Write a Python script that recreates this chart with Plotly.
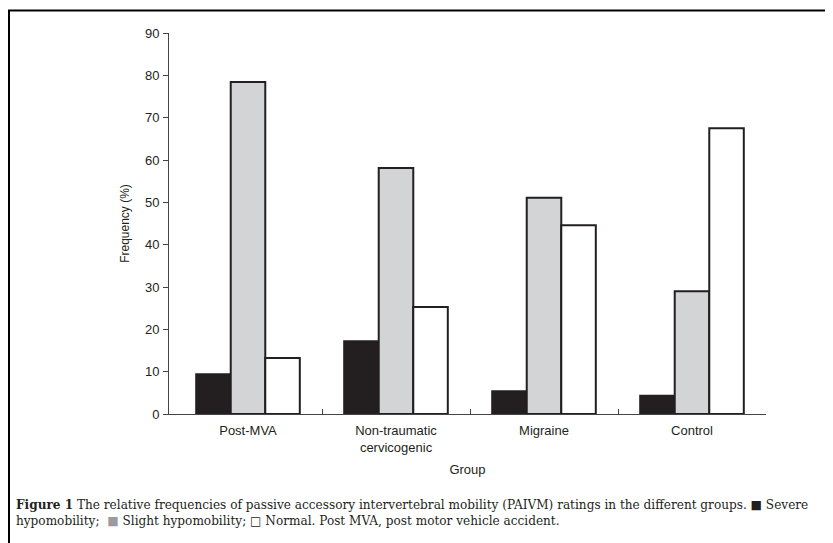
import plotly.graph_objects as go

groups = ["Post-MVA", "Non-traumatic<br>cervicogenic", "Migraine", "Control"]
severe = [9.4, 17.2, 5.4, 4.3]
slight = [78.4, 58.1, 51.1, 29.0]
normal = [13.2, 25.3, 44.6, 67.5]
y_ticks = [0, 10, 20, 30, 40, 50, 60, 70, 80, 90]

# page has an 8px body margin; work in figure coordinates
OFF = 8
W, H = 833, 543
L, R = 169 - OFF, 766 - OFF
T, B = 33 - OFF, 414 - OFF
pw, ph = R - L, B - T

def px(x):
    return (x - OFF - L) / pw

def py(y):
    return (B - (y - OFF)) / ph

fig = go.Figure()
line = dict(color="#231f20", width=2)
fig.add_bar(x=groups, y=severe, name="Severe hypomobility",
            marker=dict(color="#231f20", line=line))
fig.add_bar(x=groups, y=slight, name="Slight hypomobility",
            marker=dict(color="#d3d4d6", line=line))
fig.add_bar(x=groups, y=normal, name="Normal",
            marker=dict(color="#ffffff", line=line))
fig.add_scatter(x=[0], y=[0], xaxis="x2", mode="none", showlegend=False,
                hoverinfo="skip")

xr = [-0.5 - 5 / 148, 3.5]
axfont = dict(family="Liberation Sans, Arial, sans-serif", size=12, color="#231f20")
lblfont = dict(family="Liberation Sans, Arial, sans-serif", size=13, color="#231f20")

fig.update_layout(
    width=W, height=H,
    margin=dict(l=L, r=W - R, t=T, b=H - B),
    paper_bgcolor="white", plot_bgcolor="white",
    barmode="group", bargap=0.30, bargroupgap=0,
    showlegend=False,
    font=axfont,
    xaxis=dict(type="category", range=xr, showline=True, linecolor="#444",
               linewidth=1, ticks="", showgrid=False, zeroline=False,
               tickfont=lblfont, ticklabelstandoff=4,
               title=dict(text="Group", font=lblfont, standoff=11)),
    xaxis2=dict(overlaying="x", range=xr, tickvals=[0.5, 1.5, 2.5, 3.5],
                ticks="inside", ticklen=5, tickcolor="#444",
                showticklabels=False, showgrid=False, zeroline=False,
                showline=False, side="bottom"),
    yaxis=dict(range=[0, 90], tickvals=y_ticks, showline=True,
               linecolor="#444", linewidth=1, ticks="outside", ticklen=5,
               tickcolor="#444", showgrid=False, zeroline=False,
               tickfont=lblfont, ticklabelstandoff=1,
               title=dict(text="Frequency (%)", font=axfont, standoff=12)),
)

# figure frame (right and bottom edges fall outside the view)
fig.add_shape(type="rect", xref="paper", yref="paper",
              x0=px(9), x1=px(860), y0=py(570), y1=py(10.5),
              line=dict(color="black", width=2), layer="above")

capfont = dict(family="DejaVu Serif, serif", size=12.1, color="#231f20")
fig.add_annotation(
    xref="paper", yref="paper", x=px(14), y=py(505), xanchor="left",
    yanchor="middle", showarrow=False, font=capfont, align="left",
    text="<b>Figure 1</b> The relative frequencies of passive accessory intervertebral "
         "mobility (PAIVM) ratings in the different groups. ■ Severe")
fig.add_annotation(
    xref="paper", yref="paper", x=px(14), y=py(521), xanchor="left",
    yanchor="middle", showarrow=False, font=capfont, align="left",
    text="hypomobility;  <span style='color:#9a9b9d'>■</span> Slight hypomobility; "
         "□ Normal. Post MVA, post motor vehicle accident.")

fig.write_html("out.html")
